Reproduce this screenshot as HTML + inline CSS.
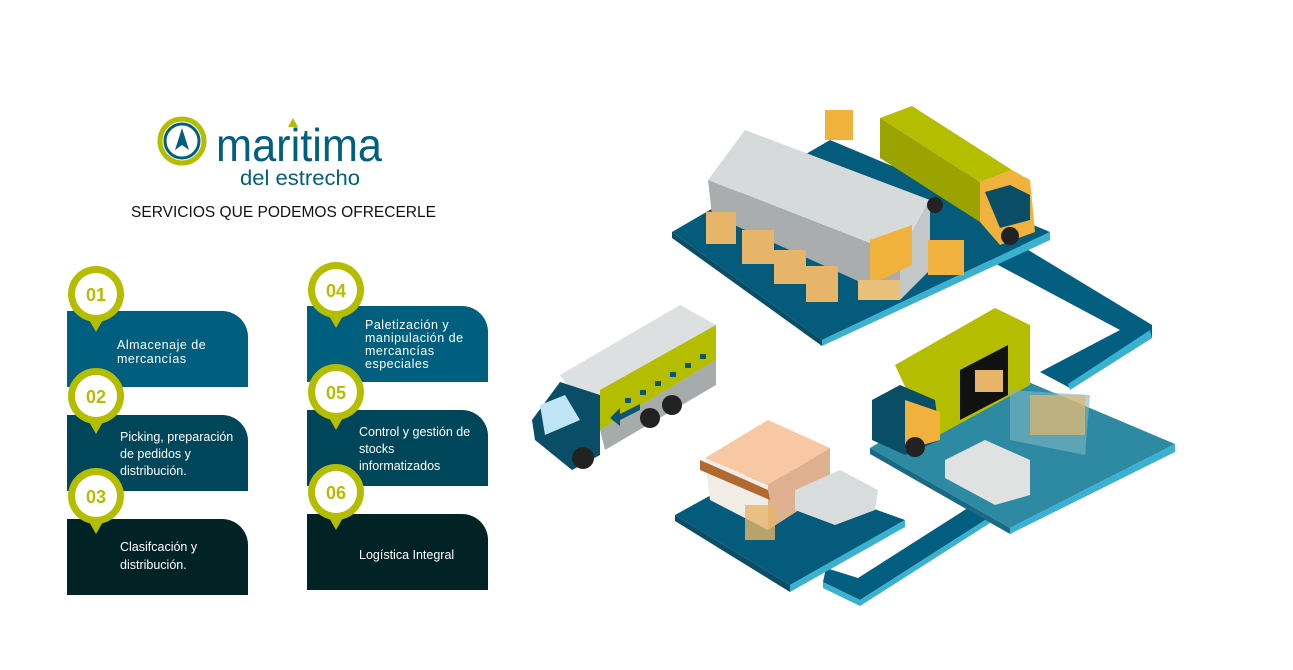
<!DOCTYPE html>
<html><head><meta charset="utf-8"><style>
body{margin:0;width:1293px;height:670px;background:#fff;position:relative;overflow:hidden;font-family:"Liberation Sans",sans-serif}
.box{position:absolute;width:181px;height:76px;border-top-right-radius:26px;color:#fff;font-size:12.5px;line-height:14px}
.box span{position:absolute}
</style></head><body>
<svg style="position:absolute;left:0;top:0" width="1293" height="670">
 <circle cx="182" cy="141" r="22" fill="none" stroke="#b4bd00" stroke-width="5"/>
 <circle cx="182" cy="141" r="17" fill="none" stroke="#005f7f" stroke-width="3"/>
 <polygon points="182,128 175,150 182,145 189,150" fill="#005f7f"/>
 <polygon points="293,118 288,127 298,127" fill="#b4bd00"/>
 <text x="216" y="161" font-family="Liberation Sans" font-size="46" fill="#006080" textLength="166" lengthAdjust="spacingAndGlyphs">maritima</text>
 <text x="240" y="185" font-family="Liberation Sans" font-size="21" fill="#006080" textLength="120" lengthAdjust="spacingAndGlyphs">del estrecho</text>
 <text x="131" y="217" font-family="Liberation Sans" font-size="16" fill="#111" textLength="305" lengthAdjust="spacingAndGlyphs">SERVICIOS QUE PODEMOS OFRECERLE</text>

 <!-- paths -->
 <polygon points="985,258 1015,242 1152,325 1152,338 1070,388 1040,372 1120,330" fill="#035e7f"/>
 <polygon points="1150,330 1152,338 1070,390 1068,384" fill="#3ab1d1"/>
 <polygon points="971,506 990,517 860,600 823,582 826,568 858,578" fill="#035e7f"/>
 <polygon points="823,582 860,600 860,606 823,588" fill="#3ab1d1"/>
 <polygon points="860,600 990,517 990,523 860,606" fill="#3ab1d1"/>
 <!-- top platform -->
 <polygon points="672,232 830,140 1050,232 822,340" fill="#045b7b"/>
 <polygon points="672,232 822,340 822,346 672,238" fill="#0a4d66"/>
 <polygon points="822,340 1050,232 1050,240 822,346" fill="#3ab1d1"/>
 <!-- middle platform -->
 <polygon points="870,448 1000,370 1175,444 1010,528" fill="#2e8aa3"/>
 <polygon points="1010,528 1175,444 1175,452 1010,534" fill="#3ab1d1"/>
 <polygon points="870,448 1010,528 1010,534 870,454" fill="#1b6a85"/>
 <!-- bottom platform -->
 <polygon points="675,515 760,468 905,520 790,585" fill="#045b7b"/>
 <polygon points="790,585 905,520 905,527 790,592" fill="#3ab1d1"/>
 <polygon points="675,515 790,585 790,592 675,521" fill="#0a4d66"/>
 <!-- warehouse -->
 <polygon points="708,180 745,130 930,200 900,255" fill="#d6dada"/>
 <polygon points="708,180 900,255 900,300 712,215" fill="#a9adad"/>
 <polygon points="900,255 930,200 930,270 900,300" fill="#c3c7c7"/>
 <polygon points="870,240 912,225 912,265 870,285" fill="#f0b23c"/>
 <rect x="706" y="212" width="30" height="32" fill="#e6b56a"/>
 <rect x="742" y="230" width="32" height="34" fill="#e6b56a"/>
 <rect x="774" y="250" width="32" height="34" fill="#e6b56a"/>
 <rect x="806" y="266" width="32" height="36" fill="#e6b56a"/>
 <rect x="858" y="280" width="42" height="20" fill="#e9c07a"/>
 <!-- top truck -->
 <polygon points="880,118 912,106 1012,170 980,182" fill="#b4bd00"/>
 <polygon points="880,118 980,182 980,222 880,158" fill="#9aa300"/>
 <polygon points="980,182 1012,170 1030,180 1035,232 1000,245 980,222" fill="#f0b23c"/>
 <polygon points="985,192 1010,185 1030,195 1030,220 1000,228" fill="#0a4d66"/>
 <circle cx="935" cy="205" r="8" fill="#222"/><circle cx="1010" cy="236" r="9" fill="#222"/>
 <rect x="825" y="110" width="28" height="30" fill="#f0b23c"/>
 <rect x="928" y="240" width="36" height="35" fill="#f0b23c"/>
 <!-- left truck -->
 <polygon points="560,375 680,305 716,325 716,360 600,430" fill="#dde0e0"/>
 <polygon points="600,390 716,325 716,360 600,430" fill="#b4bd00"/>
 <polygon points="600,430 716,360 716,385 605,450" fill="#a6abab"/>
 <g fill="#0a5573"><rect x="625" y="398" width="6" height="5"/><rect x="640" y="390" width="6" height="5"/><rect x="655" y="381" width="6" height="5"/><rect x="670" y="372" width="6" height="5"/><rect x="685" y="363" width="6" height="5"/><rect x="700" y="354" width="6" height="5"/></g>
 <polygon points="610,418 620,408 620,414 640,404 640,410 620,420 620,426" fill="#0a5573"/>
 <polygon points="532,420 560,382 600,395 600,455 572,470 535,440" fill="#0a4d66"/>
 <polygon points="540,405 565,395 580,420 545,435" fill="#bfe5f5"/>
 <circle cx="583" cy="458" r="11" fill="#222"/><circle cx="650" cy="418" r="10" fill="#222"/><circle cx="672" cy="405" r="10" fill="#222"/>
 <!-- middle truck -->
 <polygon points="895,365 995,308 1030,325 1030,385 930,440" fill="#b4bd00"/>
 <polygon points="960,370 1008,345 1008,395 960,420" fill="#111"/>
 <polygon points="872,400 900,385 935,400 940,440 905,455 872,440" fill="#0a4d66"/>
 <polygon points="905,400 940,412 940,440 905,450" fill="#f0b23c"/>
 <circle cx="915" cy="447" r="10" fill="#222"/>
 <rect x="975" y="370" width="28" height="22" fill="#e6b56a"/>
 <polygon points="1010,390 1090,395 1085,455 1010,440" fill="#7fb5c5" opacity="0.6"/>
 <rect x="1030" y="395" width="55" height="40" fill="#e6b56a" opacity="0.7"/>
 <polygon points="945,460 985,440 1030,460 1030,495 995,505 945,478" fill="#e0e2e2"/>
 <!-- shop -->
 <polygon points="705,458 768,420 830,448 768,485" fill="#f8c8a5"/>
 <polygon points="705,458 768,485 768,530 710,500" fill="#f1ece6"/>
 <polygon points="768,485 830,448 830,490 768,530" fill="#dfb090"/>
 <polygon points="700,460 768,490 770,500 700,470" fill="#b06a30"/>
 <polygon points="795,490 840,470 878,490 875,510 835,525 795,510" fill="#d9dcdc"/>
 <rect x="745" y="505" width="30" height="35" fill="#e6b56a" opacity="0.8"/>
</svg>

<div class="box" style="left:67px;top:311px;background:#005f7f"><span style="left:50px;top:27px;letter-spacing:.5px">Almacenaje de<br>mercancías</span></div>
<div class="box" style="left:67px;top:415px;background:#00465a"><span style="left:53px;top:14px;line-height:17px">Picking, preparación<br>de pedidos y<br>distribución.</span></div>
<div class="box" style="left:67px;top:519px;background:#012326"><span style="left:53px;top:19px;line-height:18px">Clasifcación y<br>distribución.</span></div>
<div class="box" style="left:307px;top:306px;background:#005f7f"><span style="left:58px;top:13px;line-height:13px;letter-spacing:.5px">Paletización y<br>manipulación de<br>mercancías<br>especiales</span></div>
<div class="box" style="left:307px;top:410px;background:#00465a"><span style="left:52px;top:14px;line-height:17px">Control y gestión de<br>stocks<br>informatizados</span></div>
<div class="box" style="left:307px;top:514px;background:#012326"><span style="left:52px;top:34px">Logística Integral</span></div>

<svg style="position:absolute;left:0;top:0" width="1293" height="670">
 <g font-family="Liberation Sans" font-weight="bold" font-size="18" fill="#b4bd00" text-anchor="middle">
  <g transform="translate(96,294)"><path d="M-8,24 L0,38 L8,24 Z" fill="#b4bd00"/><circle r="28" fill="#b4bd00"/><circle r="21" fill="#fff"/><text y="7">01</text></g>
  <g transform="translate(96,396)"><path d="M-8,24 L0,38 L8,24 Z" fill="#b4bd00"/><circle r="28" fill="#b4bd00"/><circle r="21" fill="#fff"/><text y="7">02</text></g>
  <g transform="translate(96,496)"><path d="M-8,24 L0,38 L8,24 Z" fill="#b4bd00"/><circle r="28" fill="#b4bd00"/><circle r="21" fill="#fff"/><text y="7">03</text></g>
  <g transform="translate(336,290)"><path d="M-8,24 L0,38 L8,24 Z" fill="#b4bd00"/><circle r="28" fill="#b4bd00"/><circle r="21" fill="#fff"/><text y="7">04</text></g>
  <g transform="translate(336,392)"><path d="M-8,24 L0,38 L8,24 Z" fill="#b4bd00"/><circle r="28" fill="#b4bd00"/><circle r="21" fill="#fff"/><text y="7">05</text></g>
  <g transform="translate(336,492)"><path d="M-8,24 L0,38 L8,24 Z" fill="#b4bd00"/><circle r="28" fill="#b4bd00"/><circle r="21" fill="#fff"/><text y="7">06</text></g>
 </g>
</svg>
</body></html>
